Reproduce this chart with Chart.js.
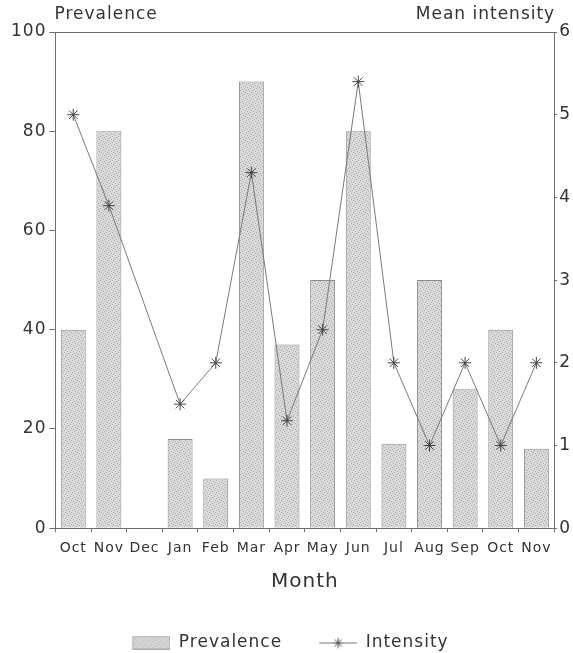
<!DOCTYPE html>
<html>
<head>
<meta charset="utf-8">
<script src="https://cdn.jsdelivr.net/npm/chart.js@4/dist/chart.umd.min.js"></script>
<style>
  html, body { margin: 0; padding: 0; background: #fff; }
  #wrap { width: 573px; height: 653px; }
</style>
</head>
<body>
<div id="wrap"><canvas id="chart"></canvas></div>
<script>
const months = ['Oct', 'Nov', 'Dec', 'Jan', 'Feb', 'Mar', 'Apr', 'May', 'Jun', 'Jul', 'Aug', 'Sep', 'Oct', 'Nov']
const prevalence = [40, 80, 0, 18, 10, 90, 37, 50, 80, 17, 50, 28, 40, 16]
const intensity = [5.0, 3.9, null, 1.5, 2.0, 4.3, 1.3, 2.4, 5.4, 2.0, 1.0, 2.0, 1.0, 2.0]
const leftTicks = [0, 20, 40, 60, 80, 100]
const rightTicks = [0, 1, 2, 3, 4, 5, 6]

const FONT = 'DejaVu Sans'
const TXT = '#333'
const AXIS = '#6e6e6e'
const ICON_W = 72   // legend icon canvas, left part left blank as spacing
const ICON_PAD = 34

// stippled grey fill for the bars
function makeStipple() {
    const c = document.createElement('canvas')
    c.width = 6; c.height = 6
    const g = c.getContext('2d')
    g.fillStyle = '#dadada'
    g.fillRect(0, 0, 6, 6)
    g.fillStyle = '#a9a9a9'
    const dots = [[0, 0], [3, 1], [1, 3], [4, 4], [2, 5], [5, 2]]
    dots.forEach(d => g.fillRect(d[0], d[1], 1, 1))
    return g.createPattern(c, 'repeat')
}
const stipple = makeStipple()

// legend icons
function barIcon() {
    const c = document.createElement('canvas')
    c.width = ICON_W; c.height = 14
    const g = c.getContext('2d')
    g.fillStyle = stipple
    g.fillRect(ICON_PAD, 0, 38, 14)
    g.strokeStyle = '#888'
    g.setLineDash([1, 1])
    g.strokeRect(ICON_PAD + 0.5, 0.5, 37, 13)
    return c
}
function lineIcon() {
    const c = document.createElement('canvas')
    c.width = ICON_W; c.height = 14
    const g = c.getContext('2d')
    g.strokeStyle = '#777'
    g.lineWidth = 1
    g.beginPath(); g.moveTo(ICON_PAD, 7.5); g.lineTo(ICON_PAD + 38, 7.5); g.stroke()
    g.strokeStyle = '#444'
    const cx = ICON_PAD + 19
    for (let i = 0; i < 4; i++) {
        const a = i * Math.PI / 4
        g.beginPath()
        g.moveTo(cx - 5 * Math.cos(a), 7.5 - 5 * Math.sin(a))
        g.lineTo(cx + 5 * Math.cos(a), 7.5 + 5 * Math.sin(a))
        g.stroke()
    }
    return c
}

// wider letter spacing like the printed figure
const spacing = {
    id: 'spacing',
    beforeUpdate(chart) { chart.ctx.letterSpacing = '1px' },
    beforeDraw(chart) { chart.ctx.letterSpacing = '1px' }
}

// the blank lead of the first icon pushes the legend right, pull it back
const legendShift = {
    id: 'legendShift',
    afterLayout(chart) {
        chart.legend.left -= ICON_PAD / 2
        chart.legend.right -= ICON_PAD / 2
    }
}

const frameAndTitles = {
    id: 'frameAndTitles',
    afterDraw(chart) {
        const ctx = chart.ctx
        const a = chart.chartArea
        ctx.save()
        ctx.strokeStyle = AXIS
        ctx.lineWidth = 1
        ctx.beginPath()
        ctx.moveTo(a.left, a.top + 0.5)
        ctx.lineTo(a.right, a.top + 0.5)
        ctx.stroke()
        ctx.fillStyle = TXT
        ctx.font = '17px "' + FONT + '"'
        ctx.textBaseline = 'middle'
        ctx.textAlign = 'left'
        ctx.fillText('Prevalence', a.left - 1, 15)
        ctx.textAlign = 'right'
        ctx.fillText('Mean intensity', a.right + 1, 15)
        ctx.restore()
    }
}

new Chart(document.getElementById('chart'), {
    data: {
        labels: months,
        datasets: [{
            type: 'line',
            label: 'Intensity',
            data: intensity,
            yAxisID: 'y2',
            borderColor: '#7a7a7a',
            borderWidth: 1,
            pointStyle: 'star',
            pointRadius: 6,
            pointBorderColor: '#444',
            pointBorderWidth: 1,
            spanGaps: true,
            tension: 0,
            order: 0
        }, {
            type: 'bar',
            label: 'Prevalence',
            data: prevalence,
            yAxisID: 'y',
            backgroundColor: stipple,
            borderColor: '#8c8c8c',
            borderWidth: 1,
            categoryPercentage: 1,
            barPercentage: 0.7,
            order: 1
        }]
    },
    options: {
        responsive: true,
        maintainAspectRatio: false,
        animation: false,
        layout: { padding: { top: 32, left: 8, right: 0, bottom: -8 } },
        plugins: {
            tooltip: { enabled: false },
            legend: {
                position: 'bottom',
                labels: {
                    usePointStyle: true,
                    pointStyleWidth: ICON_W,
                    boxHeight: 14,
                    color: TXT,
                    font: { family: FONT, size: 17 },
                    padding: 3,
                    generateLabels(chart) {
                        return [
                            { text: 'Prevalence', pointStyle: barIcon(), fontColor: TXT, datasetIndex: 1, lineWidth: 0 },
                            { text: 'Intensity', pointStyle: lineIcon(), fontColor: TXT, datasetIndex: 0, lineWidth: 0 }
                        ]
                    }
                }
            }
        },
        scales: {
            x: {
                offset: true,
                border: { color: AXIS },
                grid: { display: true, drawOnChartArea: false, tickLength: 4, color: AXIS },
                ticks: { color: TXT, font: { family: FONT, size: 14 }, padding: 8, autoSkip: false, maxRotation: 0 },
                title: { display: true, text: 'Month', color: TXT, font: { family: FONT, size: 20 }, padding: { top: 5, bottom: 37 } }
            },
            y: {
                position: 'left',
                min: 0, max: 100,
                afterBuildTicks(axis) { axis.ticks = leftTicks.map(v => ({ value: v })) },
                border: { color: AXIS },
                grid: { drawOnChartArea: false, tickLength: 6, color: AXIS },
                ticks: { color: TXT, font: { family: FONT, size: 17 }, padding: 3 }
            },
            y2: {
                position: 'right',
                min: 0, max: 6,
                afterBuildTicks(axis) { axis.ticks = rightTicks.map(v => ({ value: v })) },
                border: { color: AXIS },
                grid: { drawOnChartArea: false, tickLength: 3, color: AXIS },
                ticks: { color: TXT, font: { family: FONT, size: 17 }, padding: 2 }
            }
        }
    },
    plugins: [spacing, legendShift, frameAndTitles]
})
</script>
</body>
</html>
